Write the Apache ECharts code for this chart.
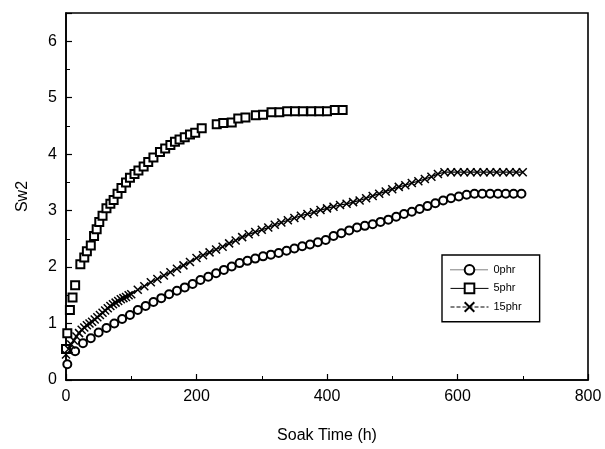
<!DOCTYPE html>
<html>
<head>
<meta charset="utf-8">
<script src="https://cdn.jsdelivr.net/npm/echarts@6/dist/echarts.min.js"></script>
<style>
  html, body { margin: 0; padding: 0; background: #fff; }
  #chart { width: 605px; height: 449px; }
</style>
</head>
<body>
<div id="chart"></div>
<script>
// Soak time (h) and Sw2 readings for each filler loading
const time0 = [2, 14, 26, 38, 50, 62, 74, 86, 98, 110, 122, 134, 146, 158, 170, 182, 194, 206, 218, 230,
  242, 254, 266, 278, 290, 302, 314, 326, 338, 350, 362, 374, 386, 398, 410, 422, 434, 446, 458, 470,
  482, 494, 506, 518, 530, 542, 554, 566, 578, 590, 602, 614, 626, 638, 650, 662, 674, 686, 698];
const sw0 = [0.28, 0.51, 0.65, 0.74, 0.84, 0.92, 1.00, 1.08, 1.15, 1.24, 1.31, 1.38, 1.45, 1.52, 1.58, 1.64, 1.70, 1.77, 1.83, 1.89,
  1.95, 2.01, 2.07, 2.11, 2.15, 2.19, 2.22, 2.25, 2.29, 2.33, 2.37, 2.40, 2.44, 2.48, 2.55, 2.60, 2.65, 2.70, 2.73, 2.76,
  2.80, 2.84, 2.89, 2.94, 2.98, 3.03, 3.08, 3.13, 3.18, 3.22, 3.25, 3.28, 3.30, 3.30, 3.30, 3.30, 3.30, 3.30, 3.30];

const time5 = [0, 2, 6, 10, 14, 22, 28, 32, 38, 43, 47, 51, 56, 62, 68, 73, 79, 85, 92, 98,
  105, 111, 119, 126, 134, 144, 152, 160, 167, 174, 182, 190, 198, 208, 231, 241, 254, 264, 275, 291,
  302, 315, 327, 339, 351, 363, 376, 388, 400, 412, 424];
const sw5 = [0.55, 0.83, 1.24, 1.46, 1.68, 2.05, 2.17, 2.28, 2.38, 2.55, 2.67, 2.80, 2.91, 3.04, 3.12, 3.19, 3.30, 3.40, 3.50, 3.58,
  3.65, 3.71, 3.78, 3.86, 3.94, 4.04, 4.10, 4.16, 4.22, 4.26, 4.30, 4.35, 4.38, 4.46, 4.53, 4.55, 4.56, 4.63, 4.65, 4.69,
  4.70, 4.74, 4.74, 4.76, 4.76, 4.76, 4.76, 4.76, 4.76, 4.78, 4.78];

const time15 = [0, 4, 8, 12, 16, 20, 24, 28, 32, 36, 40, 44, 48, 52, 56, 60, 64, 68, 72, 76, 80, 84, 88, 92, 96, 100,
  110, 120, 130, 140, 150, 160, 170, 180, 190, 200, 210, 220, 230, 240, 250, 260, 270, 280, 290, 300,
  310, 320, 330, 340, 350, 360, 370, 380, 390, 400, 410, 420, 430, 440, 450, 460, 470, 480, 490, 500,
  510, 520, 530, 540, 550, 560, 570, 580, 590, 600, 610, 620, 630, 640, 650, 660, 670, 680, 690, 700];
const sw15 = [0.45, 0.55, 0.63, 0.70, 0.77, 0.83, 0.89, 0.93, 0.97, 1.00, 1.03, 1.07, 1.11, 1.15, 1.19, 1.23, 1.27, 1.31, 1.34, 1.37, 1.40, 1.43, 1.45, 1.47, 1.50, 1.52,
  1.60, 1.66, 1.73, 1.79, 1.85, 1.91, 1.97, 2.03, 2.09, 2.16, 2.21, 2.26, 2.31, 2.36, 2.42, 2.47, 2.53, 2.58, 2.62, 2.66,
  2.70, 2.75, 2.79, 2.83, 2.87, 2.91, 2.94, 2.97, 3.01, 3.04, 3.07, 3.10, 3.12, 3.15, 3.18, 3.22, 3.26, 3.30, 3.34, 3.38,
  3.42, 3.45, 3.49, 3.52, 3.56, 3.60, 3.65, 3.68, 3.68, 3.68, 3.68, 3.68, 3.68, 3.68, 3.68, 3.68, 3.68, 3.68, 3.68, 3.68];

const seriesNames = ['0phr', '5phr', '15phr'];
const xTicks = { min: 0, max: 800, step: 200 };
const yTicks = { min: 0, max: 6.5, step: 1 };

const pairs = (xs, ys) => xs.map((t, i) => [t, ys[i]]);
const crossSymbol = 'path://M0,0L10,10M10,0L0,10';
const FONT = '"Liberation Sans", Arial, sans-serif';

const chart = echarts.init(document.getElementById('chart'), null, { renderer: 'canvas' });

const axisCommon = {
  axisLine: { show: true, onZero: false, lineStyle: { color: '#000', width: 1.6 } },
  axisTick: { show: true, inside: true, length: 6, lineStyle: { color: '#000', width: 1.2 } },
  minorTick: { show: true, splitNumber: 2, length: 4, lineStyle: { color: '#000', width: 1 } },
  splitLine: { show: false },
  axisLabel: { color: '#000', fontSize: 16, fontFamily: FONT },
  nameTextStyle: { color: '#000', fontSize: 16, fontFamily: FONT }
};

chart.setOption({
  backgroundColor: '#fff',
  animation: false,
  grid: {
    left: 66, right: 17, top: 13, bottom: 63,
    show: true, borderColor: '#000', borderWidth: 1.6, backgroundColor: 'transparent'
  },
  xAxis: Object.assign({}, axisCommon, {
    type: 'value',
    min: xTicks.min, max: xTicks.max, interval: xTicks.step,
    name: 'Soak Time (h)', nameLocation: 'middle', nameGap: 48,
    axisLabel: Object.assign({}, axisCommon.axisLabel, { margin: 9 })
  }),
  yAxis: Object.assign({}, axisCommon, {
    type: 'value',
    min: yTicks.min, max: yTicks.max, interval: yTicks.step,
    name: 'Sw2', nameLocation: 'middle', nameGap: 35,
    axisLabel: Object.assign({}, axisCommon.axisLabel, {
      margin: 9,
      formatter: v => (Number.isInteger(v) ? String(v) : '')
    })
  }),
  legend: {
    orient: 'vertical',
    left: 442, top: 255,
    padding: [9, 18, 9, 8],
    itemWidth: 38, itemHeight: 12, itemGap: 7,
    backgroundColor: '#fff',
    borderColor: '#000', borderWidth: 1.4, borderRadius: 0,
    textStyle: { color: '#000', fontSize: 11, fontFamily: FONT },
    data: [
      { name: seriesNames[0], lineStyle: { opacity: 1, width: 1, type: 'dotted', color: '#000' } },
      { name: seriesNames[1], lineStyle: { opacity: 1, width: 1, type: 'solid', color: '#000' } },
      { name: seriesNames[2], lineStyle: { opacity: 1, width: 1, type: 'dashed', color: '#000' } }
    ]
  },
  series: [
    {
      name: seriesNames[0], type: 'line',
      data: pairs(time0, sw0),
      symbol: 'emptyCircle', symbolSize: 8, showAllSymbol: true,
      itemStyle: { color: '#000', borderWidth: 1.1 },
      lineStyle: { opacity: 0, type: 'dotted', color: '#000' }
    },
    {
      name: seriesNames[1], type: 'line',
      data: pairs(time5, sw5),
      symbol: 'emptyRect', symbolSize: 8, showAllSymbol: true,
      itemStyle: { color: '#000', borderWidth: 1.2 },
      lineStyle: { opacity: 0, color: '#000' }
    },
    {
      name: seriesNames[2], type: 'line',
      data: pairs(time15, sw15),
      symbol: crossSymbol, symbolSize: 8, showAllSymbol: true,
      itemStyle: { color: '#000', borderColor: '#000', borderWidth: 1.5 },
      lineStyle: { width: 1.2, color: '#000' }
    }
  ]
});
</script>
</body>
</html>
